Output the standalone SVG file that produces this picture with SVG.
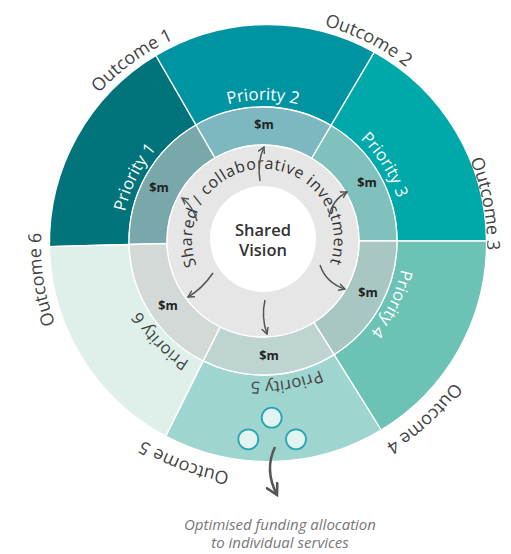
<svg xmlns="http://www.w3.org/2000/svg" xmlns:xlink="http://www.w3.org/1999/xlink" width="511" height="554" viewBox="0 0 511 554">
<style>
text{font-family:"Open Sans","Liberation Sans",sans-serif}
.seg{stroke:#ffffff;stroke-width:1.3}
.out{font-size:18px;fill:#444}
.pri{font-size:16.8px;fill:#ffffff}
.pri.dk{fill:#444}
.m{font-size:12.5px;font-weight:700;fill:#222;text-anchor:middle}
.arr{fill:none;stroke:#555;stroke-width:1.5;marker-end:url(#ah)}
</style>
<defs>
<marker id="ah" viewBox="0 0 8 8" refX="6.5" refY="4" markerWidth="8" markerHeight="8" markerUnits="userSpaceOnUse" orient="auto">
<path d="M0,0.5 L6.5,4 L0,7.5" fill="none" stroke="#555" stroke-width="1.4"/>
</marker>
<marker id="ahb" viewBox="0 0 12 12" refX="10" refY="6" markerWidth="14" markerHeight="14" markerUnits="userSpaceOnUse" orient="auto">
<path d="M0,0.5 L10,6 L0,11.5" fill="none" stroke="#555" stroke-width="2.2"/>
</marker>
<path id="tp-c" d="M196.7,265.4 A71,71 0 1 1 328.8,266.6"/>
<path id="tp-p1" d="M125.95,274.15 A141,141 0 0 1 206.56,111.79"/>
<path id="tp-p2" d="M172.37,132.99 A141,141 0 0 1 353.63,132.99"/>
<path id="tp-p3" d="M306.57,106.9 A141,141 0 0 1 402.63,260.63"/>
<path id="tp-p4" d="M399.81,206.89 A141,141 0 0 1 320.35,369.8"/>
<path id="tp-p5" d="M370.22,332.57 A141,141 0 0 1 191.44,362.49"/>
<path id="tp-p6" d="M248.75,381.28 A141,141 0 0 1 122.38,251.32"/>
<path id="tp-o1" d="M52.51,171 A225,225 0 0 1 261.86,20.02"/>
<path id="tp-o2" d="M232.63,20.32 A227,227 0 0 1 465.06,137.72"/>
<path id="tp-o3" d="M420.33,86.38 A222,222 0 0 1 467.18,336.71"/>
<path id="tp-o4" d="M492.57,295.03 A233,233 0 0 1 295.83,475.95"/>
<path id="tp-o5" d="M322.98,467.57 A230,230 0 0 1 75.69,375.59"/>
<path id="tp-o6" d="M103.32,400.03 A224,224 0 0 1 64.01,146.1"/>
</defs>
<rect width="511" height="554" fill="#ffffff"/>

<g id="outcome-1">
<path class="seg" fill="#00737b" d="M129.05,244.5 L49.5,246.6 A218.5,218.5 0 0 1 155.9,55.5 L196,124.95 A134,134 0 0 0 129.05,244.5 Z"/>
<text class="out" text-anchor="middle"><textPath xlink:href="#tp-o1" startOffset="50%">Outcome 1</textPath></text>
</g>
<g id="outcome-2">
<path class="seg" fill="#0094a2" d="M196,124.95 L155.9,55.5 A218.5,218.5 0 0 1 374.3,52.1 L331,125.55 A134,134 0 0 0 196,124.95 Z"/>
<text class="out" text-anchor="middle"><textPath xlink:href="#tp-o2" startOffset="50%">Outcome 2</textPath></text>
</g>
<g id="outcome-3">
<path class="seg" fill="#00a9a9" d="M331,125.55 L374.3,52.1 A218.5,218.5 0 0 1 486.5,241 L397,241 A134,134 0 0 0 331,125.55 Z"/>
<text class="out" text-anchor="middle"><textPath xlink:href="#tp-o3" startOffset="50%">Outcome 3</textPath></text>
</g>
<g id="outcome-4">
<path class="seg" fill="#6cc2b4" d="M397,241 L486.5,241 A218.5,218.5 0 0 1 381.1,430 L334,354.6 A134,134 0 0 0 397,241 Z"/>
<text class="out" text-anchor="middle"><textPath xlink:href="#tp-o4" startOffset="50%">Outcome 4</textPath></text>
</g>
<g id="outcome-5">
<path class="seg" fill="#9fd5cf" d="M334,354.6 L381.1,430 A218.5,218.5 0 0 1 165.7,436.1 L203.2,360.9 A134,134 0 0 0 334,354.6 Z"/>
<text class="out" text-anchor="middle"><textPath xlink:href="#tp-o5" startOffset="50%">Outcome 5</textPath></text>
</g>
<g id="outcome-6">
<path class="seg" fill="#dff0eb" d="M203.2,360.9 L165.7,436.1 A218.5,218.5 0 0 1 49.5,246.6 L129.05,244.5 A134,134 0 0 0 203.2,360.9 Z"/>
<text class="out" text-anchor="middle"><textPath xlink:href="#tp-o6" startOffset="50%">Outcome 6</textPath></text>
</g>

<g id="priority-1">
<path class="seg" fill="#79a8ab" d="M167.03,243.51 L129.05,244.5 A134,134 0 0 1 196,124.95 L215,157.86 A96,96 0 0 0 167.03,243.51 Z"/>
<text class="pri" text-anchor="middle"><textPath xlink:href="#tp-p1" startOffset="50%">Priority 1</textPath></text>
<text class="m" x="159" y="192">$m</text>
</g>
<g id="priority-2">
<path class="seg" fill="#7db8c0" d="M215,157.86 L196,124.95 A134,134 0 0 1 331,125.55 L311.72,158.29 A96,96 0 0 0 215,157.86 Z"/>
<text class="pri" text-anchor="middle"><textPath xlink:href="#tp-p2" startOffset="50%">Priority 2</textPath></text>
<text class="m" x="264" y="129">$m</text>
</g>
<g id="priority-3">
<path class="seg" fill="#80c1bd" d="M311.72,158.29 L331,125.55 A134,134 0 0 1 397,241 L359,241 A96,96 0 0 0 311.72,158.29 Z"/>
<text class="pri" text-anchor="middle"><textPath xlink:href="#tp-p3" startOffset="50%">Priority 3</textPath></text>
<text class="m" x="367" y="187">$m</text>
</g>
<g id="priority-4">
<path class="seg" fill="#a8c7c2" d="M359,241 L397,241 A134,134 0 0 1 334,354.6 L313.87,322.41 A96,96 0 0 0 359,241 Z"/>
<text class="pri" text-anchor="middle"><textPath xlink:href="#tp-p4" startOffset="50%">Priority 4</textPath></text>
<text class="m" x="368" y="297">$m</text>
</g>
<g id="priority-5">
<path class="seg" fill="#bdd4d1" d="M313.87,322.41 L334,354.6 A134,134 0 0 1 203.2,360.9 L220.16,326.91 A96,96 0 0 0 313.87,322.41 Z"/>
<text class="pri dk" text-anchor="middle"><textPath xlink:href="#tp-p5" startOffset="50%">Priority 5</textPath></text>
<text class="m" x="269" y="360">$m</text>
</g>
<g id="priority-6">
<path class="seg" fill="#d2d9d7" d="M220.16,326.91 L203.2,360.9 A134,134 0 0 1 129.05,244.5 L167.03,243.51 A96,96 0 0 0 220.16,326.91 Z"/>
<text class="pri dk" text-anchor="middle"><textPath xlink:href="#tp-p6" startOffset="50%">Priority 6</textPath></text>
<text class="m" x="168" y="310">$m</text>
</g>

<g id="investment-ring">
<circle cx="263" cy="241" r="96" fill="#e6e6e6" stroke="#ffffff" stroke-width="1.3"/>
<text font-size="16" fill="#333"><textPath xlink:href="#tp-c" textLength="272" lengthAdjust="spacing">Shared / collaborative investment</textPath></text>
</g>

<g id="shared-vision">
<circle cx="263" cy="239" r="53" fill="#ffffff"/>
<text x="263" y="236" font-size="16.5" font-weight="600" fill="#333" text-anchor="middle">Shared</text>
<text x="263" y="256" font-size="16.5" font-weight="600" fill="#333" text-anchor="middle">Vision</text>
</g>

<g id="services">
<circle cx="271.7" cy="417.7" r="10" fill="#e3f3f1" stroke="#26a6b0" stroke-width="1.8"/>
<circle cx="248.3" cy="439.3" r="10" fill="#e3f3f1" stroke="#26a6b0" stroke-width="1.8"/>
<circle cx="296" cy="439.3" r="10" fill="#e3f3f1" stroke="#26a6b0" stroke-width="1.8"/>
</g>

<g id="connectors">
<path class="arr" d="M260,181 Q257,162 264,147"/>
<path class="arr" d="M329,217 Q332,200 347,192"/>
<path class="arr" d="M320,265 Q326,283 345,289"/>
<path class="arr" d="M265,300 Q261,317 267,334"/>
<path class="arr" d="M213,273 Q202,289 188,297"/>
<path class="arr" d="M197,221 Q193,206 182,198"/>
<path d="M275,447 Q264,470 277,495" fill="none" stroke="#555" stroke-width="2.5" marker-end="url(#ahb)"/>
</g>

<g id="caption">
<text x="280" y="530" font-size="15" font-style="italic" fill="#777" text-anchor="middle">Optimised funding allocation</text>
<text x="280" y="548" font-size="15" font-style="italic" fill="#777" text-anchor="middle">to individual services</text>
</g>
</svg>
